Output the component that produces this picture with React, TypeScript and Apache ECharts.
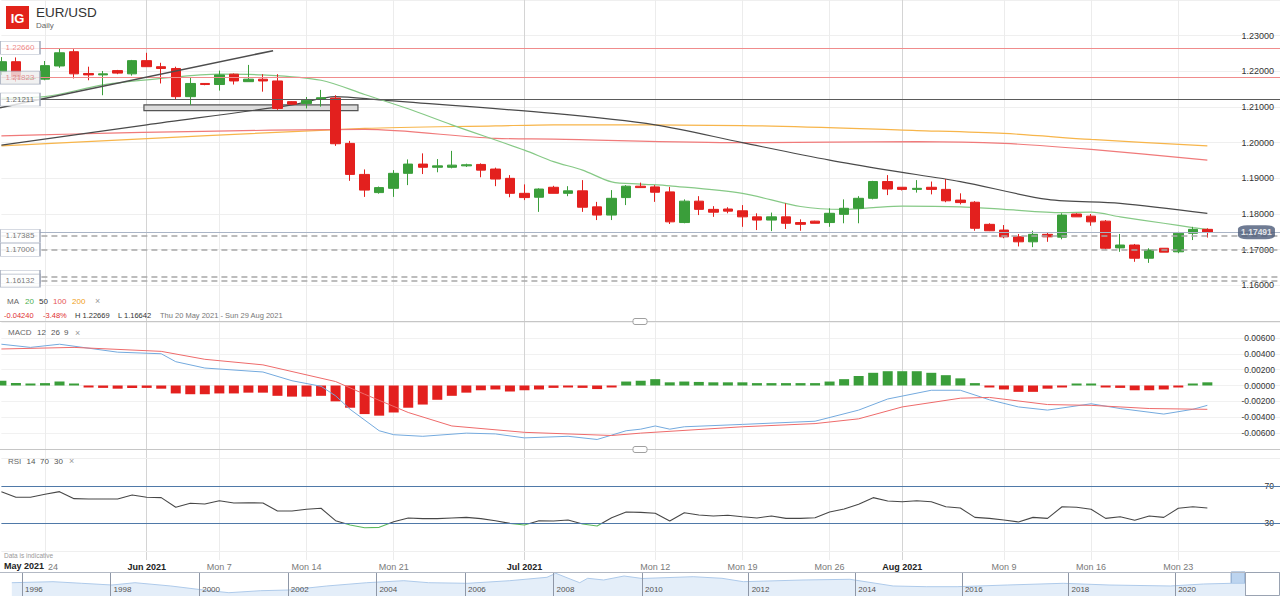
import React, { useEffect, useRef } from 'react';
import * as echarts from 'echarts';

const FONT = 'Arial, "Liberation Sans", Helvetica, sans-serif';
const UP = '#3a9e3a';
const DOWN = '#e3201e';

// daily sessions shown by IG (Sunday session included, no Saturday)
const dates = [
  '2021-05-20', '2021-05-21', '2021-05-23', '2021-05-24', '2021-05-25', '2021-05-26', '2021-05-27', '2021-05-28', '2021-05-30', '2021-05-31',
  '2021-06-01', '2021-06-02', '2021-06-03', '2021-06-04', '2021-06-06', '2021-06-07', '2021-06-08', '2021-06-09', '2021-06-10', '2021-06-11',
  '2021-06-13', '2021-06-14', '2021-06-15', '2021-06-16', '2021-06-17', '2021-06-18', '2021-06-20', '2021-06-21', '2021-06-22', '2021-06-23',
  '2021-06-24', '2021-06-25', '2021-06-27', '2021-06-28', '2021-06-29', '2021-06-30', '2021-07-01', '2021-07-02', '2021-07-04', '2021-07-05',
  '2021-07-06', '2021-07-07', '2021-07-08', '2021-07-09', '2021-07-11', '2021-07-12', '2021-07-13', '2021-07-14', '2021-07-15', '2021-07-16',
  '2021-07-18', '2021-07-19', '2021-07-20', '2021-07-21', '2021-07-22', '2021-07-23', '2021-07-25', '2021-07-26', '2021-07-27', '2021-07-28',
  '2021-07-29', '2021-07-30', '2021-08-01', '2021-08-02', '2021-08-03', '2021-08-04', '2021-08-05', '2021-08-06', '2021-08-08', '2021-08-09',
  '2021-08-10', '2021-08-11', '2021-08-12', '2021-08-13', '2021-08-15', '2021-08-16', '2021-08-17', '2021-08-18', '2021-08-19', '2021-08-20',
  '2021-08-22', '2021-08-23', '2021-08-24', '2021-08-25', '2021-08-26', '2021-08-27', '2021-08-29', '2021-08-30', '2021-08-31',
];

const tickDates = ['2021-05-24', '2021-06-01', '2021-06-07', '2021-06-14', '2021-06-21', '2021-07-01', '2021-07-12', '2021-07-19', '2021-07-26', '2021-08-01', '2021-08-09', '2021-08-16', '2021-08-23'];
const tickTexts = ['24', 'Jun 2021', 'Mon 7', 'Mon 14', 'Mon 21', 'Jul 2021', 'Mon 12', 'Mon 19', 'Mon 26', 'Aug 2021', 'Mon 9', 'Mon 16', 'Mon 23'];

const open = [
  1.2199, 1.2227, 1.2180, 1.2178, 1.2215, 1.2255, 1.2194, 1.2190, 1.2202, 1.2193,
  1.2230, 1.2213, 1.2208, 1.2129, 1.2166, 1.2163, 1.2192, 1.2171, 1.2178, 1.2173,
  1.2115, 1.2110, 1.2122, 1.2125, 1.1998, 1.1911, 1.1860, 1.1872, 1.1914, 1.1940,
  1.1931, 1.1931, 1.1935, 1.1939, 1.1926, 1.1900, 1.1858, 1.1847, 1.1875, 1.1858,
  1.1865, 1.1820, 1.1797, 1.1846, 1.1878, 1.1876, 1.1862, 1.1776, 1.1836, 1.1813,
  1.1814, 1.1809, 1.1792, 1.1783, 1.1792, 1.1776, 1.1780, 1.1776, 1.1799, 1.1816,
  1.1844, 1.1891, 1.1875, 1.1869, 1.1875, 1.1869, 1.1839, 1.1833, 1.1771, 1.1755,
  1.1736, 1.1722, 1.1743, 1.1735, 1.1800, 1.1794, 1.1780, 1.1705, 1.1713, 1.1676,
  1.1704, 1.1694, 1.1746, 1.1757,
];
const close = [
  1.2227, 1.2180, 1.2182, 1.2216, 1.2252, 1.2193, 1.2190, 1.2193, 1.2195, 1.2230,
  1.2213, 1.2208, 1.2129, 1.2166, 1.2163, 1.2190, 1.2173, 1.2178, 1.2173, 1.2096,
  1.2108, 1.2119, 1.2126, 1.1997, 1.1911, 1.1867, 1.1874, 1.1914, 1.1940, 1.1931,
  1.1935, 1.1937, 1.1938, 1.1923, 1.1898, 1.1858, 1.1846, 1.1870, 1.1858, 1.1865,
  1.1819, 1.1797, 1.1844, 1.1878, 1.1874, 1.1861, 1.1778, 1.1836, 1.1813, 1.1805,
  1.1808, 1.1792, 1.1783, 1.1792, 1.1774, 1.1771, 1.1774, 1.1802, 1.1816, 1.1844,
  1.1891, 1.1870, 1.1869, 1.1872, 1.1869, 1.1837, 1.1832, 1.1760, 1.1753, 1.1736,
  1.1722, 1.1743, 1.1736, 1.1797, 1.1792, 1.1778, 1.1704, 1.1713, 1.1676, 1.1699,
  1.1693, 1.1746, 1.1757, 1.17491,
];
const low = [
  1.2190, 1.2171, 1.2176, 1.2175, 1.2210, 1.2180, 1.2175, 1.2133, 1.2192, 1.2188,
  1.2213, 1.2166, 1.2120, 1.2106, 1.2161, 1.2146, 1.2163, 1.2171, 1.2143, 1.2092,
  1.2106, 1.2096, 1.2101, 1.1991, 1.1893, 1.1848, 1.1857, 1.1848, 1.1881, 1.1912,
  1.1917, 1.1928, 1.1932, 1.1903, 1.1878, 1.1847, 1.1839, 1.1806, 1.1858, 1.1850,
  1.1806, 1.1783, 1.1783, 1.1825, 1.1873, 1.1834, 1.1772, 1.1774, 1.1797, 1.1792,
  1.1802, 1.1764, 1.1755, 1.1752, 1.1758, 1.1753, 1.1774, 1.1764, 1.1774, 1.1774,
  1.1841, 1.1853, 1.1866, 1.1860, 1.1855, 1.1833, 1.1827, 1.1753, 1.1752, 1.1732,
  1.1709, 1.1707, 1.1722, 1.1729, 1.1792, 1.1767, 1.1701, 1.1694, 1.1666, 1.1663,
  1.1693, 1.1690, 1.1727, 1.1734,
];
const high = [
  1.2240, 1.2239, 1.2185, 1.2229, 1.2265, 1.2262, 1.2213, 1.2201, 1.2204, 1.2232,
  1.2252, 1.2224, 1.2213, 1.2183, 1.2167, 1.2202, 1.2194, 1.2218, 1.2192, 1.2192,
  1.2116, 1.2128, 1.2148, 1.2133, 1.2005, 1.1925, 1.1877, 1.1923, 1.1953, 1.1970,
  1.1954, 1.1977, 1.1941, 1.1942, 1.1930, 1.1909, 1.1883, 1.1872, 1.1879, 1.1878,
  1.1895, 1.1834, 1.1867, 1.1881, 1.1888, 1.1881, 1.1876, 1.1841, 1.1850, 1.1822,
  1.1819, 1.1825, 1.1802, 1.1804, 1.1830, 1.1785, 1.1781, 1.1816, 1.1841, 1.1850,
  1.1893, 1.1909, 1.1875, 1.1895, 1.1891, 1.1898, 1.1858, 1.1836, 1.1774, 1.1769,
  1.1744, 1.1753, 1.1748, 1.1802, 1.1802, 1.1800, 1.1783, 1.1744, 1.1716, 1.1704,
  1.1704, 1.1750, 1.1764, 1.1760,
];

// moving averages read at sampled sessions [session index, price]
const ma20 = [[0, 1.2125], [3, 1.2129], [7, 1.2162], [11, 1.2180], [15, 1.2192], [18, 1.2190], [22, 1.2175], [25, 1.2135], [28, 1.2095], [31, 1.2050], [36, 1.1979], [38, 1.1947], [40, 1.1923], [42, 1.1890], [44, 1.1884], [46, 1.1879], [51, 1.1858], [55, 1.1821], [58, 1.1813], [60, 1.1818], [62, 1.1822], [66, 1.1820], [69, 1.1813], [73, 1.1804], [75, 1.1805], [77, 1.1792], [80, 1.1774], [82, 1.1762], [83, 1.1757]];
const ma50 = [[0, 1.1993], [10, 1.2050], [20, 1.2106], [23, 1.2129], [26, 1.2120], [38, 1.2082], [45, 1.2050], [51, 1.2000], [57, 1.1951], [61, 1.1923], [66, 1.1891], [72, 1.1841], [77, 1.1830], [83, 1.1802]];
const ma100 = [[0, 1.2019], [25, 1.2037], [34, 1.2012], [38, 1.2010], [51, 1.2000], [63, 1.2003], [69, 1.1998], [75, 1.1981], [83, 1.1951]];
const ma200 = [[0, 1.1991], [25, 1.2040], [34, 1.2047], [38, 1.2050], [51, 1.2048], [63, 1.2034], [69, 1.2026], [75, 1.2009], [83, 1.1991]];

const macdHist = [
  0.0006, 0.0003, 0.00015, 0.0003, 0.0005, 0.0002, -0.0001, -0.0003, -0.0004, -0.0003,
  -0.0003, -0.0004, -0.001, -0.0011, -0.0011, -0.001, -0.001, -0.0009, -0.0009, -0.0013,
  -0.0014, -0.0014, -0.0013, -0.002, -0.0028, -0.0036, -0.0038, -0.0034, -0.0028, -0.0024,
  -0.0018, -0.0013, -0.0009, -0.0006, -0.0005, -0.00075, -0.0006, -0.0005, -0.0003, -0.00025,
  -0.0003, -0.00045, -0.0001, 0.0005, 0.0006, 0.0008, 0.0004, 0.0005, 0.00045, 0.0004,
  0.0004, 0.0004, 0.0003, 0.0003, 0.0003, 0.0003, 0.0003, 0.0005, 0.0008, 0.0012,
  0.0016, 0.0018, 0.0018, 0.0018, 0.0016, 0.0013, 0.0009, 0.0003, -0.0001, -0.0005,
  -0.0008, -0.0008, -0.0004, -0.0001, 0.00005, 0.0001, -0.0002, -0.0003, -0.0006, -0.0006,
  -0.0005, -0.0002, 0.0002, 0.0004,
];
const macdLine = [[0, 0.0052], [2, 0.0048], [4, 0.0052], [8, 0.0042], [11, 0.0040], [12, 0.0030], [14, 0.0022], [18, 0.0017], [20, 0.0006], [22, -0.0001], [23, -0.0013], [24, -0.0030], [26, -0.0057], [27, -0.0062], [29, -0.0064], [32, -0.0060], [34, -0.0061], [36, -0.0066], [39, -0.0064], [41, -0.0068], [43, -0.0057], [44, -0.0055], [45, -0.0051], [46, -0.0055], [47, -0.0052], [51, -0.0049], [56, -0.0045], [59, -0.0031], [61, -0.0017], [64, -0.0006], [66, -0.0006], [68, -0.0018], [70, -0.0027], [72, -0.0031], [75, -0.0023], [77, -0.0029], [80, -0.0036], [82, -0.0030], [83, -0.0025]];
const signalLine = [[0, 0.0046], [5, 0.0048], [11, 0.0043], [14, 0.0033], [18, 0.0026], [23, 0.0005], [25, -0.0011], [28, -0.0034], [31, -0.0051], [36, -0.0059], [42, -0.0063], [44, -0.0060], [51, -0.0052], [56, -0.0048], [59, -0.0042], [62, -0.0027], [66, -0.0016], [68, -0.0015], [72, -0.0024], [75, -0.0025], [79, -0.0029], [83, -0.0030]];

const rsi = [
  63.9, 57.8, 57.8, 61, 63.9, 56.3, 56, 56, 56, 60.3,
  57.8, 57.4, 47, 51.3, 50.5, 54.1, 51.6, 51.9, 51.6, 43,
  43, 44.8, 45.9, 32.5, 27.8, 24.9, 25.3, 31.4, 35.4, 34.7,
  34.7, 35.4, 36.1, 34.7, 32.5, 29.6, 27.8, 32.5, 32.2, 33.2,
  28.9, 26.8, 35.7, 41.9, 41.5, 40.5, 32.2, 41.1, 38.6, 37.6,
  38.3, 36.8, 35.4, 37.6, 35, 35, 35.7, 41.9, 45.1, 50.2,
  57.4, 53.8, 53, 54.1, 53, 47.6, 46.2, 36.1, 35, 33.2,
  31.1, 36.1, 35, 47.6, 47, 44.8, 35, 36.8, 32.9, 37.6,
  36.1, 45.9, 47.6, 46.2,
];

// horizontal levels drawn on the chart
const levelPrices = [1.2266, 1.21823, 1.21211, 1.17491, 1.17385, 1.17, 1.16242, 1.16132];
const levelKinds = ['red', 'red', 'dark', 'last', 'dash', 'dash', 'dash', 'dash'];
const tagPrices = [1.2266, 1.21823, 1.21211, 1.17385, 1.17, 1.16242, 1.16132];
const tagColors = ['#e86a6a', '#d9777a', '#444', '#555', '#555', '', '#555'];
const tagFills = ['#fff', '#eeeeee', '#fff', '#fff', '#fff', '#fff', '#fff'];
const lastPrice = 1.17491;

// user drawn trend line and zone [session position, price]
const trendLine = [[-0.1, 1.2098], [18.7, 1.2258]];
const zoneStart = [9.81, 1.2106];
const zoneEnd = [24.54, 1.2090];

// long history navigator
const navYearsA = [1995.77, 1996.7, 1997.35, 1998.03, 1998.55, 1999.36, 2000.1, 2000.67, 2001.39, 2002.02, 2002.88, 2003.78, 2004.62, 2005.18, 2006.06, 2007.01, 2007.85, 2008.05, 2008.39, 2008.59, 2008.77, 2009.13, 2009.59, 2010];
const navValuesA = [1.154, 1.196, 1.129, 1.058, 1.154, 1.017, 0.85, 0.738, 0.821, 0.85, 1.017, 1.154, 1.238, 1.154, 1.129, 1.238, 1.379, 1.546, 1.296, 1.154, 1.338, 1.267, 1.433, 1.33];
const navYearsB = [2010, 2010.96, 2011.5, 2011.9, 2013.02, 2013.9, 2014.71, 2015.33, 2015.91, 2016.85, 2017.9, 2018.76, 2019.91, 2020.53, 2021.05, 2021.31];
const navValuesB = [1.33, 1.404, 1.338, 1.196, 1.267, 1.296, 1.017, 0.988, 0.988, 1.058, 1.129, 1.058, 1.017, 1.1, 1.129, 1.13];
const navSelected = [2021.05, 2021.31];

const tickIdx = new Set(tickDates.map((d) => dates.indexOf(d)));

const splitX = {
  show: true,
  interval: (i: number) => tickIdx.has(i),
  lineStyle: { color: ['#ececec', '#d4d4d4', '#ececec', '#ececec'], width: 1 },
};

const catAxis = (gridIndex: number, labels: boolean) => ({
  type: 'category',
  gridIndex,
  data: dates,
  boundaryGap: false,
  axisLine: { show: false },
  axisTick: { show: false },
  axisLabel: labels
    ? {
        interval: (i: number) => tickIdx.has(i),
        margin: 2,
        formatter: (v: string) => {
          const t = tickTexts[tickDates.indexOf(v)] || '';
          if (t.length < 3) return `{s|${t}}`;
          return t.startsWith('Mon') ? `{d|${t}}` : `{m|${t}}`;
        },
        rich: {
          d: { color: '#7a7a7a', fontSize: 9, fontFamily: FONT },
          s: { color: '#7a7a7a', fontSize: 9, fontFamily: FONT, padding: [0, 0, 0, 16] },
          m: { color: '#222', fontSize: 9, fontWeight: 'bold', fontFamily: FONT },
        },
      }
    : { show: false },
  splitLine: splitX,
});

const navAxis = (gridIndex: number, min: number, max: number, lo: number, hi: number) => ({
  type: 'value',
  gridIndex,
  min,
  max,
  interval: 2,
  z: 10,
  axisLine: { show: false },
  axisTick: { show: false },
  splitLine: { show: true, lineStyle: { color: '#8e97a7', width: 1 } },
  axisLabel: {
    inside: true,
    align: 'left',
    margin: 3,
    padding: [0, 0, 0, 3],
    fontSize: 8,
    color: '#555',
    formatter: (v: number) => (v >= lo && v <= hi && v % 2 === 0 ? String(v) : ''),
  },
});

const txt = (text: string, x: number, y: number, fill: string, fontSize = 8, fontWeight = 'normal') => ({
  type: 'text',
  x,
  y,
  z: 100,
  silent: true,
  style: { text, fill, fontSize, fontWeight, fontFamily: FONT, verticalAlign: 'middle' },
});

const levelStyle = (kind: string) => {
  if (kind === 'red') return { color: '#f08c8c', width: 1, type: 'solid' };
  if (kind === 'dark') return { color: '#5a5a5a', width: 1.2, type: 'solid' };
  if (kind === 'last') return { color: '#a9b4c6', width: 1, type: 'solid' };
  return { color: '#a8a8a8', width: 1.5, type: [6, 4] };
};

const maSeries = (data: number[][], color: string) => ({
  type: 'line',
  xAxisIndex: 0,
  yAxisIndex: 0,
  data,
  showSymbol: false,
  smooth: 0.3,
  silent: true,
  lineStyle: { color, width: 1.2 },
  z: 3,
});

const App = () => {
  const chartRef = useRef<HTMLDivElement>(null);

  useEffect(() => {
    if (!chartRef.current) return;
    document.body.style.margin = '0';
    const chart = echarts.init(chartRef.current, null, { renderer: 'svg' });

    const option = {
      animation: false,
      backgroundColor: '#fff',
      textStyle: { fontFamily: FONT },
      grid: [
        { left: 1.4, right: 0, top: 0, height: 321, outerBoundsMode: 'none' },
        { left: 1.4, right: 0, top: 322, height: 127, outerBoundsMode: 'none' },
        { left: 1.4, right: 0, top: 449, height: 111, outerBoundsMode: 'none' },
        { left: -66.6, top: 572, width: 708.8, height: 24, outerBoundsMode: 'none' },
        { left: 642, top: 572, width: 603, height: 24, outerBoundsMode: 'none' },
      ],
      xAxis: [
        catAxis(0, false),
        { type: 'value', gridIndex: 0, min: 0, max: dates.length - 1, show: false },
        catAxis(1, false),
        catAxis(2, true),
        navAxis(3, 1994, 2010, 1996, 2008),
        navAxis(4, 2010, 2021.31, 2010, 2020),
      ],
      yAxis: [
        {
          type: 'value', gridIndex: 0, position: 'right', min: 1.15, max: 1.24, interval: 0.01,
          axisLine: { show: false }, axisTick: { show: false },
          axisLabel: {
            inside: true, margin: 6, fontSize: 9, color: '#333',
            formatter: (v: number) => (v > 1.155 && v < 1.235 ? v.toFixed(5) : ''),
          },
          splitLine: { lineStyle: { color: '#efefef' } },
        },
        {
          type: 'value', gridIndex: 1, position: 'right', min: -0.008, max: 0.008, interval: 0.002,
          axisLine: { show: false }, axisTick: { show: false },
          axisLabel: {
            inside: true, margin: 5, fontSize: 8.5, color: '#333',
            formatter: (v: number) => (Math.abs(v) < 1e-9 ? '0.00000' : Math.abs(v) < 0.007 ? v.toFixed(5) : ''),
          },
          splitLine: { lineStyle: { color: '#f1f1f1' } },
        },
        {
          type: 'value', gridIndex: 2, position: 'right', min: -10, max: 110, interval: 10,
          axisLine: { show: false }, axisTick: { show: false },
          axisLabel: {
            inside: true, margin: 5, fontSize: 8.5, color: '#333', backgroundColor: '#fff', padding: [0, 1, 0, 1],
            formatter: (v: number) => (v === 70 || v === 30 ? String(v) : ''),
          },
          splitLine: { show: false },
        },
        { type: 'value', gridIndex: 3, min: 0.6, max: 1.6, show: false },
        { type: 'value', gridIndex: 4, min: 0.6, max: 1.6, show: false },
      ],
      visualMap: [
        {
          type: 'piecewise', show: false, seriesIndex: 10, dimension: 1,
          pieces: [{ gt: -50, lt: 30, color: '#5cb85c' }, { gte: 30, lte: 150, color: '#474747' }],
          outOfRange: { color: '#474747' },
        },
      ],
      series: [
        // 0 candles + levels
        {
          type: 'candlestick',
          xAxisIndex: 0,
          yAxisIndex: 0,
          barWidth: 10,
          data: open.map((o, i) => [o, close[i], low[i], high[i]]),
          itemStyle: { color: UP, color0: DOWN, borderColor: UP, borderColor0: DOWN, borderWidth: 1 },
          z: 4,
          markLine: {
            silent: true,
            precision: 5,
            symbol: ['none', 'none'],
            label: { show: false },
            data: levelPrices.map((p, i) => ({ yAxis: p, lineStyle: levelStyle(levelKinds[i]) })),
          },
        },
        maSeries(ma200, '#f7b54a'),
        maSeries(ma100, '#f07a7a'),
        maSeries(ma50, '#4a4a4a'),
        maSeries(ma20, '#86c986'),
        // 5 trend line + zone
        {
          type: 'line',
          xAxisIndex: 1,
          yAxisIndex: 0,
          data: trendLine,
          showSymbol: false,
          silent: true,
          lineStyle: { color: '#4d4d4d', width: 1.5 },
          z: 5,
          markArea: {
            silent: true,
            itemStyle: { color: 'rgba(215,215,215,0.85)', borderColor: '#555', borderWidth: 1.2 },
            data: [[{ coord: zoneStart }, { coord: zoneEnd }]],
          },
        },
        // 6 price tags on the left
        {
          type: 'scatter',
          xAxisIndex: 1,
          yAxisIndex: 0,
          symbol: 'rect',
          symbolSize: [40, 13],
          silent: true,
          z: 6,
          itemStyle: { borderColor: '#9aa3b5', borderWidth: 1 },
          label: { show: true, position: 'inside', fontSize: 8, formatter: (p: any) => (p.data.label.color ? p.value[1].toFixed(5) : '') },
          data: tagPrices.map((p, i) => ({ value: [1.28, p], itemStyle: { color: tagFills[i] }, label: { color: tagColors[i] } })),
        },
        // 7 last price tag
        {
          type: 'scatter',
          xAxisIndex: 1,
          yAxisIndex: 0,
          symbol: 'roundRect',
          symbolSize: [37, 14],
          silent: true,
          z: 7,
          itemStyle: { color: '#4b5a78' },
          label: { show: true, position: 'inside', fontSize: 8.5, fontWeight: 'bold', color: '#fff', formatter: (p: any) => p.value[1].toFixed(5) },
          data: [[86.38, lastPrice]],
        },
        // 8 MACD histogram
        {
          type: 'bar',
          xAxisIndex: 2,
          yAxisIndex: 1,
          barWidth: 10,
          barMinHeight: 2,
          silent: true,
          data: macdHist,
          itemStyle: { color: (p: any) => (p.value >= 0 ? UP : DOWN) },
        },
        // 9 MACD line
        {
          type: 'line',
          xAxisIndex: 2,
          yAxisIndex: 1,
          data: macdLine,
          showSymbol: false,
          silent: true,
          lineStyle: { color: '#74aade', width: 1 },
          z: 3,
        },
        // 10 RSI
        {
          type: 'line',
          xAxisIndex: 3,
          yAxisIndex: 2,
          data: rsi,
          showSymbol: false,
          silent: true,
          lineStyle: { width: 1.1 },
          z: 3,
          markLine: {
            silent: true,
            symbol: ['none', 'none'],
            label: { show: false },
            data: [
              { yAxis: 70, lineStyle: { color: '#4f79a8', width: 1, type: 'solid' } },
              { yAxis: 30, lineStyle: { color: '#4f79a8', width: 1, type: 'solid' } },
              { yAxis: 100, lineStyle: { color: '#efefef', width: 1, type: 'solid' } },
              { yAxis: 0, lineStyle: { color: '#efefef', width: 1, type: 'solid' } },
            ],
          },
        },
        // 11 signal line
        {
          type: 'line',
          xAxisIndex: 2,
          yAxisIndex: 1,
          data: signalLine,
          showSymbol: false,
          silent: true,
          lineStyle: { color: '#ee6b6b', width: 1 },
          z: 3,
        },
        // 12, 13 navigator
        {
          type: 'line',
          xAxisIndex: 4,
          yAxisIndex: 3,
          data: navYearsA.map((y, i) => [y, navValuesA[i]]),
          showSymbol: false,
          silent: true,
          z: 1,
          lineStyle: { color: '#aecaea', width: 1 },
          areaStyle: { color: '#e4eef9', opacity: 1 },
        },
        {
          type: 'line',
          xAxisIndex: 5,
          yAxisIndex: 4,
          data: navYearsB.map((y, i) => [y, navValuesB[i]]),
          showSymbol: false,
          silent: true,
          z: 1,
          lineStyle: { color: '#aecaea', width: 1 },
          areaStyle: { color: '#e4eef9', opacity: 1 },
          markArea: {
            silent: true,
            itemStyle: { color: '#bcd4ef', borderColor: '#7f9fc6', borderWidth: 1 },
            data: [[{ xAxis: navSelected[0] }, { xAxis: navSelected[1] }]],
          },
        },
      ],
      graphic: [
        { type: 'rect', z: 100, silent: true, shape: { x: 6, y: 6, width: 23, height: 23 }, style: { fill: '#e2231a' } },
        { type: 'text', z: 101, silent: true, x: 17.5, y: 18, style: { text: 'IG', fill: '#fff', fontSize: 13, fontWeight: 'bold', fontFamily: FONT, align: 'center', verticalAlign: 'middle' } },
        txt('EUR/USD', 36, 12.5, '#333', 13.5),
        txt('Daily', 36, 25, '#666', 8),
        // MA legend
        txt('MA', 7, 301, '#666', 8),
        txt('20', 25, 301, '#4caf50', 8),
        txt('50', 39, 301, '#333', 8),
        txt('100', 53, 301, '#e65555', 8),
        txt('200', 72, 301, '#f0a020', 8),
        txt('×', 95, 301, '#999', 9),
        txt('-0.04240', 4, 315, '#e03030', 7.5),
        txt('-3.48%', 43, 315, '#e03030', 7.5),
        txt('H 1.22669', 75, 315, '#333', 7.5),
        txt('L 1.16642', 118, 315, '#333', 7.5),
        txt('Thu 20 May 2021 - Sun 29 Aug 2021', 160, 315, '#777', 7.5),
        // MACD / RSI legends
        txt('MACD', 8, 332.5, '#666', 8),
        txt('12', 37, 332.5, '#555', 8),
        txt('26', 51, 332.5, '#555', 8),
        txt('9', 64, 332.5, '#555', 8),
        txt('×', 75, 332.5, '#999', 9),
        txt('RSI', 8, 461, '#666', 8),
        txt('14', 26.5, 461, '#555', 8),
        txt('70', 40, 461, '#555', 8),
        txt('30', 54, 461, '#555', 8),
        txt('×', 69, 461, '#999', 9),
        // panel separators
        { type: 'line', z: 90, silent: true, shape: { x1: 0, y1: 321.5, x2: 1280, y2: 321.5 }, style: { stroke: '#c6c6c6', lineWidth: 1 } },
        { type: 'line', z: 90, silent: true, shape: { x1: 0, y1: 449.5, x2: 1280, y2: 449.5 }, style: { stroke: '#c6c6c6', lineWidth: 1 } },
        { type: 'rect', z: 91, silent: true, shape: { x: 633, y: 318.5, width: 14, height: 6, r: 2 }, style: { fill: '#fff', stroke: '#a0a0a0' } },
        { type: 'rect', z: 91, silent: true, shape: { x: 633, y: 446.5, width: 14, height: 6, r: 2 }, style: { fill: '#fff', stroke: '#a0a0a0' } },
        txt('Data is indicative', 4, 555, '#999', 6.5),
        txt('May 2021', 4, 566, '#222', 9, 'bold'),
        // navigator frame
        { type: 'line', z: 90, silent: true, shape: { x1: 0, y1: 572.5, x2: 1280, y2: 572.5 }, style: { stroke: '#b3b9c4', lineWidth: 1 } },
        { type: 'rect', z: 91, silent: true, shape: { x: 1245.5, y: 572.5, width: 34, height: 23 }, style: { fill: '#fff', stroke: '#9aa3b2' } },
      ],
    };

    chart.setOption(option as any);

    return () => {
      chart.dispose();
    };
  }, []);

  return <div ref={chartRef} style={{ width: 1280, height: 596, background: '#fff' }} />;
};

export default App;
